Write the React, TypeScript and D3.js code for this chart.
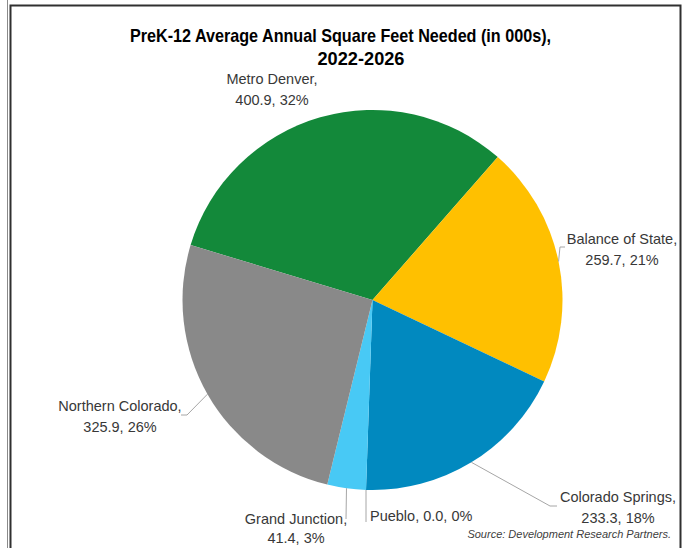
import React from 'react';
import * as d3 from 'd3';

const categories = ['Metro Denver', 'Balance of State', 'Colorado Springs', 'Pueblo', 'Grand Junction', 'Northern Colorado'];
const values = [400.9, 259.7, 233.3, 0.0, 41.4, 325.9];
const colors = ['#13893A', '#FFC000', '#0189BF', '#0189BF', '#48C9F5', '#898989'];
const titleLines = ['PreK-12 Average Annual Square Feet Needed (in 000s),', '2022-2026'];
const sourceText = 'Source: Development Research Partners.';

// layout (label block positions)
const W = 684, H = 548;
const cx = 372.5, cy = 300, R = 190;
const rotationDeg = -73.2;
type LabelLayout = { x: number; y: number; anchor: 'middle' | 'start'; single?: boolean; gap?: number; leader?: [number, number][] };
const labelLayout: LabelLayout[] = [
  { x: 272, y: 79, anchor: 'middle' },
  { x: 622, y: 239, anchor: 'middle', leader: [[560, 247], [565, 247]] },
  { x: 618, y: 497, anchor: 'middle', leader: [[550, 506], [557, 506]] },
  { x: 370, y: 516, anchor: 'start', single: true, leader: [[366, 522]] },
  { x: 296, y: 519, anchor: 'middle', gap: 19, leader: [[346, 519]] },
  { x: 120, y: 406, anchor: 'middle', leader: [[187, 415], [181, 415]] },
];

export default function App() {
  const total = d3.sum(values);
  const start = (rotationDeg * Math.PI) / 180;
  const pie = d3.pie<number>().sort(null).value((d) => d).startAngle(start).endAngle(start + 2 * Math.PI);
  const arcs = pie(values);
  const arc = d3.arc<d3.PieArcDatum<number>>().innerRadius(0).outerRadius(R);
  const pct = (v: number) => `${Math.round((v / total) * 100)}%`;
  const fmt = d3.format('.1f');
  const line = d3.line();

  return (
    <svg width={W} height={H} style={{ position: 'absolute', left: 0, top: 0, background: '#fff' }}
      fontFamily="'Liberation Sans', Arial, sans-serif">
      <rect x={0} y={0} width={W} height={H} fill="#fff" />
      <line x1={7.5} y1={0} x2={7.5} y2={H} stroke="#8a8a8a" strokeWidth={1} />
      <path d={`M10.5,${H} V5.5 H680.5 V${H}`} fill="none" stroke="#303030" strokeWidth={2} />
      <text x={130} y={42} fontSize={19} fontWeight="bold" fill="#000" textLength={421} lengthAdjust="spacingAndGlyphs">{titleLines[0]}</text>
      <text x={361} y={65} fontSize={19} fontWeight="bold" fill="#000" textAnchor="middle" textLength={87} lengthAdjust="spacingAndGlyphs">{titleLines[1]}</text>
      <g transform={`translate(${cx},${cy})`}>
        {arcs.map((a, i) => (
          a.endAngle > a.startAngle ? <path key={i} d={arc(a) || ''} fill={colors[i]} /> : null
        ))}
      </g>
      {arcs.map((a, i) => {
        const L = labelLayout[i];
        if (!L.leader) return null;
        const mid = (a.startAngle + a.endAngle) / 2;
        const p0: [number, number] = [cx + R * Math.sin(mid), cy - R * Math.cos(mid)];
        return <path key={'l' + i} d={line([p0, ...L.leader]) || ''} fill="none" stroke="#A6A6A6" strokeWidth={1} />;
      })}
      {arcs.map((a, i) => {
        const L = labelLayout[i];
        const t2 = `${fmt(values[i])}, ${pct(values[i])}`;
        if (L.single) {
          return (
            <text key={'t' + i} x={L.x} y={L.y} dy="0.35em" fontSize={14.5} fill="#383838" textAnchor={L.anchor}>
              {`${categories[i]}, ${t2}`}
            </text>
          );
        }
        return (
          <g key={'t' + i} fontSize={14.5} fill="#383838" textAnchor={L.anchor}>
            <text x={L.x} y={L.y} dy="0.35em">{categories[i] + ','}</text>
            <text x={L.x} y={L.y + (L.gap ?? 20.5)} dy="0.35em">{t2}</text>
          </g>
        );
      })}
      <text x={671} y={538} fontSize={11} fontStyle="italic" fill="#404040" textAnchor="end">{sourceText}</text>
    </svg>
  );
}
